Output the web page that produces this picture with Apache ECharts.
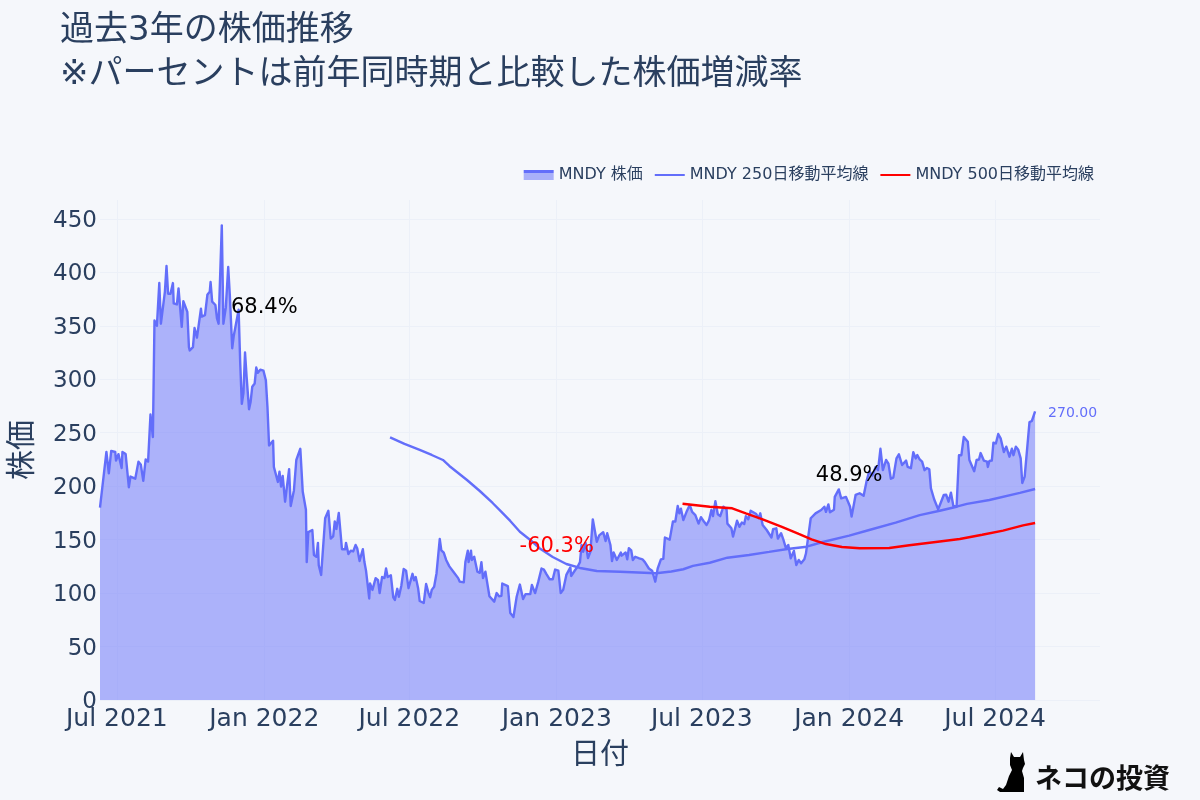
<!DOCTYPE html>
<html><head><meta charset="utf-8">
<style>html,body{margin:0;padding:0;background:#f5f7fb}#c{width:1200px;height:800px}</style>
<script src="https://cdn.jsdelivr.net/npm/echarts@6/dist/echarts.min.js"></script>
</head><body><div id="c"></div>
<script>
const titleText = '過去3年の株価推移\n※パーセントは前年同時期と比較した株価増減率';
const seriesNames = ['MNDY 株価', 'MNDY 250日移動平均線', 'MNDY 500日移動平均線'];
const xTicks = ['2021-07-01','2022-01-01','2022-07-01','2023-01-01','2023-07-01','2024-01-01','2024-07-01'];
const yTicks = [0,50,100,150,200,250,300,350,400,450];

const dates2021 = ['06-10','06-18','06-21','06-24','06-29','06-30','07-03','07-07','07-08','07-12','07-16','07-18','07-24','07-28','07-31','08-03','08-06','08-09','08-12','08-15','08-17','08-20','08-23','08-25','08-26','08-30','09-01','09-03','09-06','09-09','09-10','09-14','09-16','09-20','09-22','09-27','09-29','09-30','10-04','10-06','10-09','10-11','10-14','10-15','10-19','10-22','10-25','10-26','10-28','11-01','11-03','11-05','11-09','11-11','11-14','11-17','11-19','11-22','11-24','11-26','11-30','12-02','12-04','12-06','12-08','12-10','12-13','12-15','12-17','12-20','12-22','12-24','12-27','12-31'];
const prices2021 = [180,232,212,233,232,224,230,217,232,230,199,209,207,223,220,205,225,223,267,246,355,350,390,352,358,382,406,380,380,390,371,370,385,349,373,363,330,327,330,348,339,339,366,358.6,360,379,382,391,372.6,369.5,357,352,444,352,367,405,379,329,341,340,365,315,277,287,325,302,272,279,293,296,311,306,309,308];

const dates2022 = ['01-03','01-05','01-07','01-12','01-13','01-18','01-20','01-22','01-24','01-27','02-01','02-03','02-07','02-10','02-12','02-15','02-18','02-22','02-23','02-25','03-02','03-04','03-07','03-09','03-10','03-13','03-18','03-22','03-25','03-28','03-30','04-01','04-04','04-08','04-12','04-13','04-16','04-19','04-22','04-25','04-27','04-30','05-01','05-04','05-06','05-08','05-12','05-13','05-16','05-20','05-23','05-25','05-28','05-31','06-02','06-04','06-08','06-11','06-13','06-16','06-18','06-21','06-24','06-27','06-30','07-05','07-07','07-09','07-12','07-14','07-19','07-22','07-25','07-27','07-29','08-01','08-04','08-08','08-10','08-13','08-16','08-18','08-20','08-25','08-31','09-02','09-07','09-09','09-12','09-13','09-16','09-17','09-20','09-24','09-27','09-29','10-01','10-04','10-09','10-15','10-18','10-21','10-24','10-25','11-01','11-04','11-08','11-12','11-16','11-20','11-23','11-29','12-01','12-05','12-09','12-13','12-16','12-19','12-23','12-27','12-30'];
const prices2022 = [299,274,238,242.6,218,204,213.6,199.6,209.6,185.5,216,181.5,196,224.5,223,235,195,178,129,157,159,135.6,134,147,126,117,170,177,151,153,167,160,175,141,141,147,136.6,139.7,139,145,142,130,133,141,129,121,95,109,103,114,112,100,115,114,123,115,116.6,96,93.6,104,96.6,106.6,122.5,121,104.6,118,112,115,104.6,92.6,90.7,108.5,100,96,103,106,118.6,150.6,140,137.8,131,132,125,120,114,110.7,110,129,139.7,129,139.7,131,134,120,119,129,114,120,97,92,100,97,97.5,109,106.6,81.4,77.6,96.6,108,94.5,99,99,107.6,100,110.7,123,122,118,113,113,122];

const dates2023 = ['01-03','01-06','01-09','01-13','01-18','01-19','01-24','01-27','01-30','02-01','02-03','02-06','02-09','02-12','02-15','02-20','02-23','02-28','03-03','03-05','03-09','03-11','03-13','03-17','03-22','03-23','03-28','03-30','04-01','04-04','04-06','04-09','04-14','04-18','04-21','04-26','04-30','05-04','05-07','05-11','05-14','05-16','05-22','05-26','05-29','06-01','06-03','06-05','06-08','06-12','06-16','06-19','06-23','06-27','06-30','07-03','07-07','07-10','07-13','07-15','07-18','07-21','07-24','07-28','08-01','08-02','08-07','08-09','08-14','08-17','08-20','08-23','08-25','08-28','08-31','09-07','09-10','09-12','09-15','09-20','09-26','09-28','10-02','10-04','10-08','10-11','10-14','10-17','10-20','10-24','10-27','10-30','11-02','11-06','11-08','11-10','11-14','11-20','11-27','12-01','12-03','12-06','12-08','12-13','12-14','12-19','12-22','12-28'];
const prices2023 = [121,100,103,117,124,116,121.6,124.7,129,145,138.7,147,132.7,138.7,169,148,154,157,148.7,156,145,130,138,131,138,135,138,131.6,142,140,131,134,132.5,131.6,129,123,121,110.7,123,131.6,132,152,150,167,167,181.5,174.6,179,168.4,176,182.4,176,173,165,171,167.7,163.7,168,177.7,172,186,173.7,172,180.8,178,165,160.6,152.8,167.7,162,166,164.6,172,169,177,174,170,174.6,163.7,159,152,159.7,160.6,151,156,149.7,142,145,132.6,139.4,126.3,131,127.9,131.6,137,138,170,174.6,177.7,180.8,176,183,175.6,178,190,197,188.6,190];

const dates2024 = ['01-02','01-04','01-09','01-14','01-19','01-23','01-26','01-30','02-03','02-06','02-09','02-12','02-16','02-19','02-22','02-25','02-29','03-03','03-05','03-07','03-09','03-12','03-14','03-18','03-21','03-24','03-26','03-29','04-01','04-04','04-07','04-10','04-12','04-16','04-17','04-21','04-24','04-28','05-01','05-04','05-07','05-10','05-14','05-17','05-20','05-23','05-28','05-30','06-01','06-05','06-08','06-11','06-13','06-17','06-21','06-22','06-24','06-27','06-29','07-02','07-05','07-08','07-12','07-15','07-19','07-22','07-24','07-27','07-30','08-02','08-04','08-06','08-07','08-13','08-16','08-20'];
const prices2024 = [181,171.5,191.8,193.4,191,205.8,214,210,218,215,235,215,224.5,221,207,208,226,229.8,230.7,219.8,218,223.9,218,216.8,231.7,226,229.2,225,223,215,217,215.8,198,187.8,187,178.4,184,191.8,192,185.5,194,181.5,180.8,229,229,246,241.6,224.5,224.5,214,224.5,225,231,224,223,218,223.6,224,240.7,240,248.8,244.8,232,237,227.6,235,229,237,234,226,203,201.8,209,260,261,270];

const ma250Dates = ['2022-06-07','2022-06-25','2022-07-14','2022-07-29','2022-08-12','2022-08-20','2022-09-11','2022-09-27','2022-10-13','2022-10-24','2022-11-04','2022-11-16','2022-11-29','2022-12-10','2022-12-27','2023-01-13','2023-01-30','2023-02-20','2023-03-21','2023-05-05','2023-05-24','2023-06-08','2023-06-20','2023-07-11','2023-08-02','2023-08-29','2023-09-23','2023-10-16','2023-11-09','2023-11-29','2024-01-01','2024-01-26','2024-02-28','2024-03-29','2024-04-23','2024-05-14','2024-05-27','2024-06-24','2024-08-01','2024-08-20'];
const ma250Values = [245.6,239.5,233.9,229.2,224.5,218.9,205.8,195.5,184.3,175.9,167.5,157.4,149.7,142.2,133.8,127.2,123.5,120.7,120,118.5,120.2,122.3,125.4,128.4,133.1,135.6,138.5,141.3,143.4,147.8,153.7,159,165.9,173,177,180.8,183.4,187.1,193.7,197.4];

const ma500Dates = ['2023-06-07','2023-07-11','2023-08-08','2023-08-25','2023-09-15','2023-10-09','2023-10-30','2023-11-15','2023-12-03','2023-12-23','2024-01-14','2024-02-20','2024-03-16','2024-04-18','2024-05-18','2024-06-15','2024-07-11','2024-08-05','2024-08-20'];
const ma500Values = [183.6,180.8,179.3,174.6,169,162,155.3,150.3,145.9,143.1,141.9,142.2,144.7,147.8,150.6,154.6,158.4,163.4,165.6];

const noteDates = ['2022-01-01','2023-01-01','2024-01-01'];
const noteValues = [367.5,143.5,210];
const noteTexts = ['68.4%','-60.3%','48.9%'];

const FONT = "'DejaVu Sans','Noto Sans CJK JP',sans-serif";
const INK = '#2a3f5f', BLUE = '#636efa', RED = '#ff0000';
const pair = (ds, vs) => ds.map((d, i) => [d, vs[i]]);
const withYear = (y, ds) => ds.map(d => y + '-' + d);
const priceData = [].concat(
  pair(withYear(2021, dates2021), prices2021),
  pair(withYear(2022, dates2022), prices2022),
  pair(withYear(2023, dates2023), prices2023),
  pair(withYear(2024, dates2024), prices2024));
const xTickVals = xTicks.map(s => { const [y,m,d] = s.split('-').map(Number); return new Date(y, m-1, d).getTime(); });
const gridLine = { show: true, lineStyle: { color: '#ecf0f8', width: 1 } };

const chart = echarts.init(document.getElementById('c'), null, { renderer: 'canvas' });
chart.setOption({
  animation: false,
  backgroundColor: '#f5f7fb',
  textStyle: { fontFamily: FONT },
  title: {
    text: titleText, left: 55, top: 4,
    textStyle: { color: INK, fontSize: 34, fontWeight: 'normal', lineHeight: 44, fontFamily: FONT }
  },
  legend: {
    top: 162, right: 101, itemWidth: 30, itemHeight: 10, itemGap: 12,
    textStyle: { color: INK, fontSize: 16, fontFamily: FONT },
    data: [
      { name: seriesNames[0], icon: 'path://M0 0H30V10H0Z',
        itemStyle: { color: new echarts.graphic.LinearGradient(0,0,0,1,[
          {offset:0,color:BLUE},{offset:0.3,color:BLUE},{offset:0.3,color:'#a9b0f9'},{offset:1,color:'#a9b0f9'}]) } },
      { name: seriesNames[1], icon: 'path://M0 4H30V6H0Z', itemStyle: { color: BLUE } },
      { name: seriesNames[2], icon: 'path://M0 4H30V6H0Z', itemStyle: { color: RED } }
    ]
  },
  grid: { left: 100, right: 100, top: 200, bottom: 100, containLabel: false, outerBoundsMode: 'none' },
  xAxis: {
    type: 'time', min: '2021-06-10', max: '2024-11-09',
    name: '日付', nameLocation: 'middle', nameGap: 42,
    nameTextStyle: { color: INK, fontSize: 29, fontFamily: FONT },
    axisLine: { show: false }, axisTick: { show: false, customValues: xTickVals },
    splitLine: gridLine,
    axisLabel: {
      customValues: xTickVals, color: INK, fontSize: 25, margin: 7, hideOverlap: false,
      formatter: '{MMM} {yyyy}'
    }
  },
  yAxis: {
    type: 'value', min: 0, max: 467.7,
    name: '株価', nameLocation: 'middle', nameGap: 62, nameRotate: 90,
    nameTextStyle: { color: INK, fontSize: 30, fontFamily: FONT },
    axisLine: { show: false }, axisTick: { show: false, customValues: yTicks },
    splitLine: gridLine,
    axisLabel: { customValues: yTicks, margin: 3, formatter: '{n|{value}}',
      rich: { n: { color: INK, fontSize: 23, fontFamily: FONT, padding: [4, 0, 0, 0] } } }
  },
  series: [
    { name: seriesNames[0], type: 'line', data: priceData, showSymbol: false, symbol: 'none',
      lineStyle: { color: BLUE, width: 2.4, join: 'round' }, itemStyle: { color: BLUE },
      areaStyle: { color: 'rgba(99,110,250,0.5)', opacity: 1, origin: 'start' },
      endLabel: { show: true, distance: 12, offset: [1, 2], color: BLUE, fontSize: 14, fontFamily: FONT,
        formatter: p => p.value[1].toFixed(2) } },
    { name: seriesNames[1], type: 'line', data: pair(ma250Dates, ma250Values), showSymbol: false, symbol: 'none',
      lineStyle: { color: BLUE, width: 2.4 }, itemStyle: { color: BLUE } },
    { name: seriesNames[2], type: 'line', data: pair(ma500Dates, ma500Values), showSymbol: false, symbol: 'none',
      lineStyle: { color: RED, width: 2.4 }, itemStyle: { color: RED } },
    { name: 'notes', type: 'scatter', symbolSize: 0, silent: true, z: 5, itemStyle: { opacity: 1 },
      data: noteDates.map((d, i) => ({ value: [d, noteValues[i]],
        label: { show: true, position: 'inside', formatter: noteTexts[i], fontSize: 21, fontFamily: FONT,
          textBorderWidth: 0, textBorderColor: 'transparent', opacity: 1,
          color: noteTexts[i].startsWith('-') ? RED : '#000000' } })) }
  ],
  graphic: [
    { type: 'polygon', z: 10,
      shape: { points: [[1011,752],[1014,757],[1020,757],[1023,752],[1024,760],[1025,764],[1023,768],[1022,771],[1024,778],[1024,792],[1000,792],[997,790],[999,787],[1003,789],[1006,785],[1009,776],[1012,770],[1010,765],[1010,758]] },
      style: { fill: '#000000' } },
    { type: 'text', z: 10, x: 1035, y: 778,
      style: { text: 'ネコの投資', fill: '#111111', font: "bold 27px 'Noto Sans CJK JP'", verticalAlign: 'middle' } }
  ]
});
</script></body></html>
